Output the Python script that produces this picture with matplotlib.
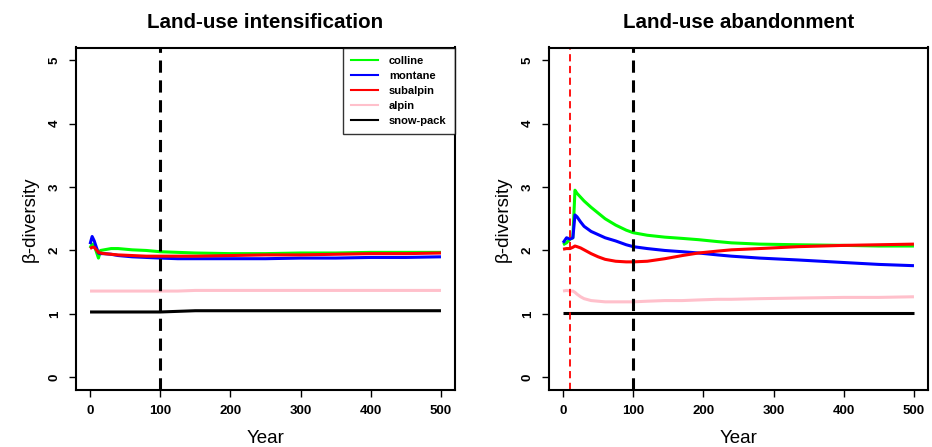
import matplotlib
matplotlib.use("Agg")
import matplotlib.pyplot as plt

plt.rcParams['font.family'] = ['Liberation Sans', 'DejaVu Sans']

# --- data ---
years_int = [0, 3, 6, 9, 12, 15, 20, 30, 40, 60, 80, 100, 125, 150, 200,
             250, 300, 350, 400, 450, 500]
colline_int = [2.04, 2.10, 2.08, 1.98, 1.88, 2.00, 2.01, 2.03, 2.03, 2.01, 2.00,
               1.98, 1.97, 1.96, 1.95, 1.95, 1.96, 1.96, 1.97, 1.97, 1.97]
montane_int = [2.10, 2.22, 2.15, 2.05, 1.96, 1.95, 1.95, 1.94, 1.92, 1.90, 1.89,
               1.88, 1.87, 1.87, 1.87, 1.87, 1.88, 1.88, 1.89, 1.89, 1.90]
subalpin_int = [2.03, 2.05, 2.05, 2.01, 1.97, 1.96, 1.95, 1.94, 1.93, 1.92, 1.91,
                1.91, 1.91, 1.91, 1.92, 1.93, 1.93, 1.94, 1.95, 1.95, 1.96]
alpin_int = [1.36, 1.36, 1.36, 1.36, 1.36, 1.36, 1.36, 1.36, 1.36, 1.36, 1.36,
             1.36, 1.36, 1.37, 1.37, 1.37, 1.37, 1.37, 1.37, 1.37, 1.37]
snow_int = [1.03, 1.03, 1.03, 1.03, 1.03, 1.03, 1.03, 1.03, 1.03, 1.03, 1.03,
            1.03, 1.04, 1.05, 1.05, 1.05, 1.05, 1.05, 1.05, 1.05, 1.05]

years_ab = [0, 5, 10, 14, 17, 20, 25, 30, 40, 50, 60, 75, 90, 100, 120, 145,
            170, 193, 220, 240, 280, 335, 400, 450, 500]
colline_ab = [2.09, 2.12, 2.18, 2.20, 2.95, 2.90, 2.84, 2.78, 2.68, 2.59, 2.50,
              2.40, 2.32, 2.28, 2.24, 2.21, 2.19, 2.17, 2.14, 2.12, 2.10, 2.09,
              2.08, 2.07, 2.07]
montane_ab = [2.12, 2.20, 2.18, 2.20, 2.56, 2.53, 2.45, 2.38, 2.30, 2.25, 2.20,
              2.15, 2.09, 2.06, 2.03, 2.00, 1.98, 1.96, 1.93, 1.91, 1.88, 1.85,
              1.81, 1.78, 1.76]
subalpin_ab = [2.02, 2.03, 2.03, 2.05, 2.07, 2.06, 2.04, 2.01, 1.95, 1.90, 1.86,
               1.83, 1.82, 1.82, 1.83, 1.87, 1.92, 1.96, 1.99, 2.01, 2.03, 2.06,
               2.08, 2.09, 2.10]
alpin_ab = [1.36, 1.37, 1.36, 1.36, 1.34, 1.31, 1.27, 1.24, 1.21, 1.20, 1.19,
            1.19, 1.19, 1.19, 1.20, 1.21, 1.21, 1.22, 1.23, 1.23, 1.24, 1.25,
            1.26, 1.26, 1.27]
snow_ab = [1.02] * len(years_ab)

series_names = ["colline", "montane", "subalpin", "alpin", "snow-pack"]
series_colors = ["#00ff00", "#0000ff", "#ff0000", "#ffc0cb", "#000000"]

x_ticks = [0, 100, 200, 300, 400, 500]
y_ticks = [0, 1, 2, 3, 4, 5]


def draw_panel(ax, title, years, series, vlines, legend=False):
    for vals, name, col in zip(series, series_names, series_colors):
        ax.plot(years, vals, color=col, lw=2.2, label=name, solid_capstyle='butt')
    for xv, col, lw in vlines:
        ax.axvline(xv, color=col, lw=lw, ls=(0, (4, 2.5)))
    ax.set_xlim(-20, 520)
    ax.set_ylim(-0.2, 5.2)
    ax.set_xticks(x_ticks)
    ax.set_yticks(y_ticks)
    ax.set_xticklabels([str(t) for t in x_ticks], fontsize=9.5, fontweight='bold')
    ax.set_yticklabels([str(t) for t in y_ticks], fontsize=9.5, fontweight='bold',
                       rotation=90, va='center')
    ax.tick_params(length=5, width=1, pad=6)
    for s in ax.spines.values():
        s.set_linewidth(1.5)
    ax.set_title(title, fontsize=14.8, fontweight='bold', pad=14)
    ax.set_xlabel("Year", fontsize=13.5, labelpad=9)
    ax.set_ylabel("β-diversity", fontsize=13.5, labelpad=7)
    if legend:
        handles = [plt.Line2D([], [], color=c, lw=1.5) for c in series_colors]
        leg = ax.legend(handles, series_names, loc='upper right', borderaxespad=0,
                        fancybox=False, handlelength=2.4, labelspacing=0.45,
                        borderpad=0.75, handletextpad=1.0,
                        prop={'size': 8, 'weight': 'bold'})
        leg.get_frame().set_edgecolor('black')
        leg.get_frame().set_linewidth(1.0)


fig = plt.figure(figsize=(9.32, 4.47), dpi=100)
ax1 = fig.add_axes([76 / 932, 1 - 390 / 447, 379 / 932, 342.5 / 447])
ax2 = fig.add_axes([549 / 932, 1 - 390 / 447, 379 / 932, 342.5 / 447])

draw_panel(ax1, "Land-use intensification", years_int,
           [colline_int, montane_int, subalpin_int, alpin_int, snow_int],
           [(100, 'black', 2.2)], legend=True)
draw_panel(ax2, "Land-use abandonment", years_ab,
           [colline_ab, montane_ab, subalpin_ab, alpin_ab, snow_ab],
           [(10, 'red', 1.3), (100, 'black', 2.2)])

fig.savefig("out.png", dpi=100)
